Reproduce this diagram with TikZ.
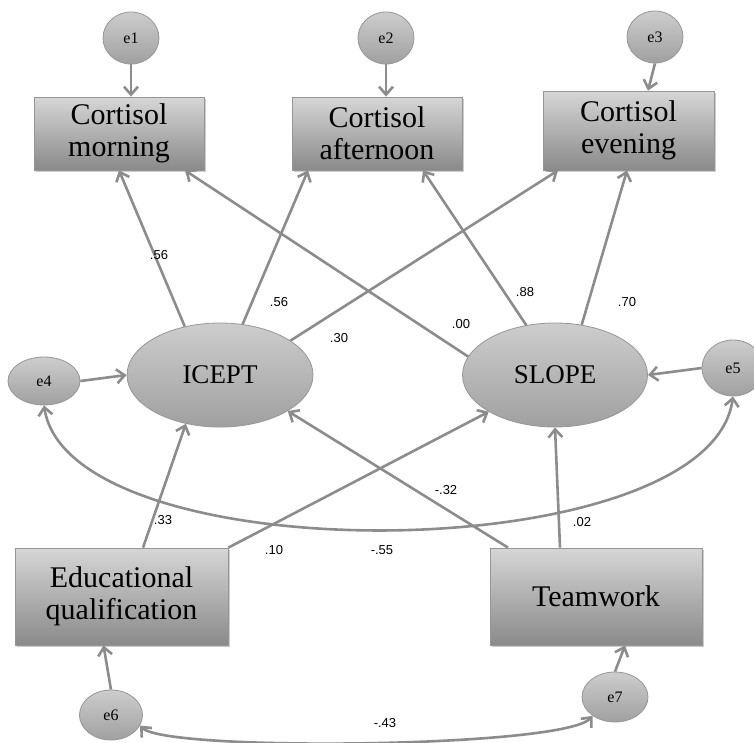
\documentclass[tikz,border=0pt]{standalone}
\usepackage{fontspec}
\setmainfont{Liberation Serif}
\newfontfamily\coeffont{Liberation Sans}
\usetikzlibrary{arrows.meta,shapes.geometric,shadows}
\definecolor{semline}{RGB}{140,140,140}
\definecolor{semedge}{RGB}{150,150,150}
\definecolor{semtop}{RGB}{214,214,214}
\definecolor{sembot}{RGB}{138,138,138}
\definecolor{lattop}{RGB}{205,205,205}
\definecolor{latbot}{RGB}{160,160,160}

\begin{document}
\begin{tikzpicture}[x=1pt, y=-1pt,
    obs/.style={draw=semedge, line width=0.8pt, top color=semtop, bottom color=sembot, align=center, inner sep=0pt, font=\fontsize{30}{32}\selectfont, drop shadow={shadow xshift=2pt, shadow yshift=-2pt, fill=black, opacity=0.2}},
    lat/.style={ellipse, draw=semedge, line width=0.8pt, top color=lattop, bottom color=latbot, inner sep=0pt, font=\fontsize{27}{30}\selectfont},
    err/.style={ellipse, draw=semedge, line width=0.8pt, top color=lattop, bottom color=latbot, inner sep=0pt, minimum width=56pt, minimum height=52pt, font=\fontsize{16}{18}\selectfont},
    link/.style={-{Straight Barb[length=8pt, width=14pt]}, line width=2.6pt, draw=semline},
    covlink/.style={{Straight Barb[length=8pt, width=14pt]}-{Straight Barb[length=8pt, width=14pt]}, line width=2.6pt, draw=semline},
    coef/.style={font=\coeffont\fontsize{13}{15}\selectfont}]
    \useasboundingbox (0,0) rectangle (754,742);

    % error terms of the cortisol measures
    \node[err] (e1) at (131,38) {e1};
    \node[err] (e2) at (386,38) {e2};
    \node[err] (e3) at (655,37) {e3};

    % observed cortisol
    \node[obs, minimum width=170pt, minimum height=73pt] (morn) at (119,133.5) {Cortisol\\morning};
    \node[obs, minimum width=170pt, minimum height=73pt] (aft) at (377,133.5) {Cortisol\\afternoon};
    \node[obs, minimum width=171pt, minimum height=79pt] (eve) at (628.5,130.5) {Cortisol\\evening};

    % growth factors
    \node[lat, minimum width=186pt, minimum height=104pt] (icept) at (220,375) {ICEPT};
    \node[lat, minimum width=185pt, minimum height=104pt] (slope) at (555,375) {SLOPE};
    \node[err, minimum width=72pt, minimum height=48pt] (e4) at (44,381) {e4};
    \node[err, minimum width=62pt, minimum height=56pt] (e5) at (733,368) {e5};

    % predictors
    \node[obs, minimum width=213pt, minimum height=97pt] (edu) at (121.5,596.5) {Educational\\qualification};
    \node[obs, minimum width=212pt, minimum height=97pt] (team) at (596,596.5) {Teamwork};
    \node[err, minimum width=63pt, minimum height=50pt] (e6) at (111,715) {e6};
    \node[err, minimum width=66pt, minimum height=50pt] (e7) at (615,697) {e7};

    \draw[link] (e1.south) -- (e1.south |- morn.north);
    \draw[link] (e2.south) -- (e2.south |- aft.north);
    \draw[link] (e3.south) -- ([xshift=19.5pt]eve.north);

    \draw[link] (icept.126) -- (morn.south);
    \draw[link] (icept.66) -- ([xshift=-69pt]aft.south);
    \draw[link] (icept.26) -- ([xshift=-70.5pt]eve.south);
    \draw[link] (slope.168) -- ([xshift=66pt]morn.south);
    \draw[link] (slope.120) -- ([xshift=46pt]aft.south);
    \draw[link] (slope.62) -- ([xshift=-1.5pt]eve.south);

    \draw[link] (e4.east) -- (icept.west);
    \draw[link] (e5.west) -- (slope.east);
    \draw[covlink] (e4.south) .. controls (70,575) and (710,570) .. (e5.south);

    \draw[link] ([xshift=21.5pt]edu.north) -- (icept.235);
    \draw[link] (edu.north east) -- (slope.209);
    \draw[link] ([xshift=-88pt]team.north) -- (icept.332);
    \draw[link] ([xshift=-36pt]team.north) -- (slope.south);

    \draw[link] (e6.north) -- ([xshift=-18pt]edu.south);
    \draw[link] (e7.north) -- ([xshift=29pt]team.south);
    \draw[covlink] (e6.-20) .. controls (165,752) and (565,748) .. (e7.220);

    % path coefficients
    \node[coef] (c1) at (159,255) {.56};
    \node[coef] (c2) at (279,302) {.56};
    \node[coef] (c3) at (339,338) {.30};
    \node[coef] (c4) at (461,324) {.00};
    \node[coef] (c5) at (525,292) {.88};
    \node[coef] (c6) at (627,302) {.70};
    \node[coef] (c7) at (163,520) {.33};
    \node[coef] (c8) at (274,550) {.10};
    \node[coef] (c9) at (382,550) {-.55};
    \node[coef] (c10) at (446,490) {-.32};
    \node[coef] (c11) at (582,522) {.02};
    \node[coef] (c12) at (385,723) {-.43};
\end{tikzpicture}
\end{document}
